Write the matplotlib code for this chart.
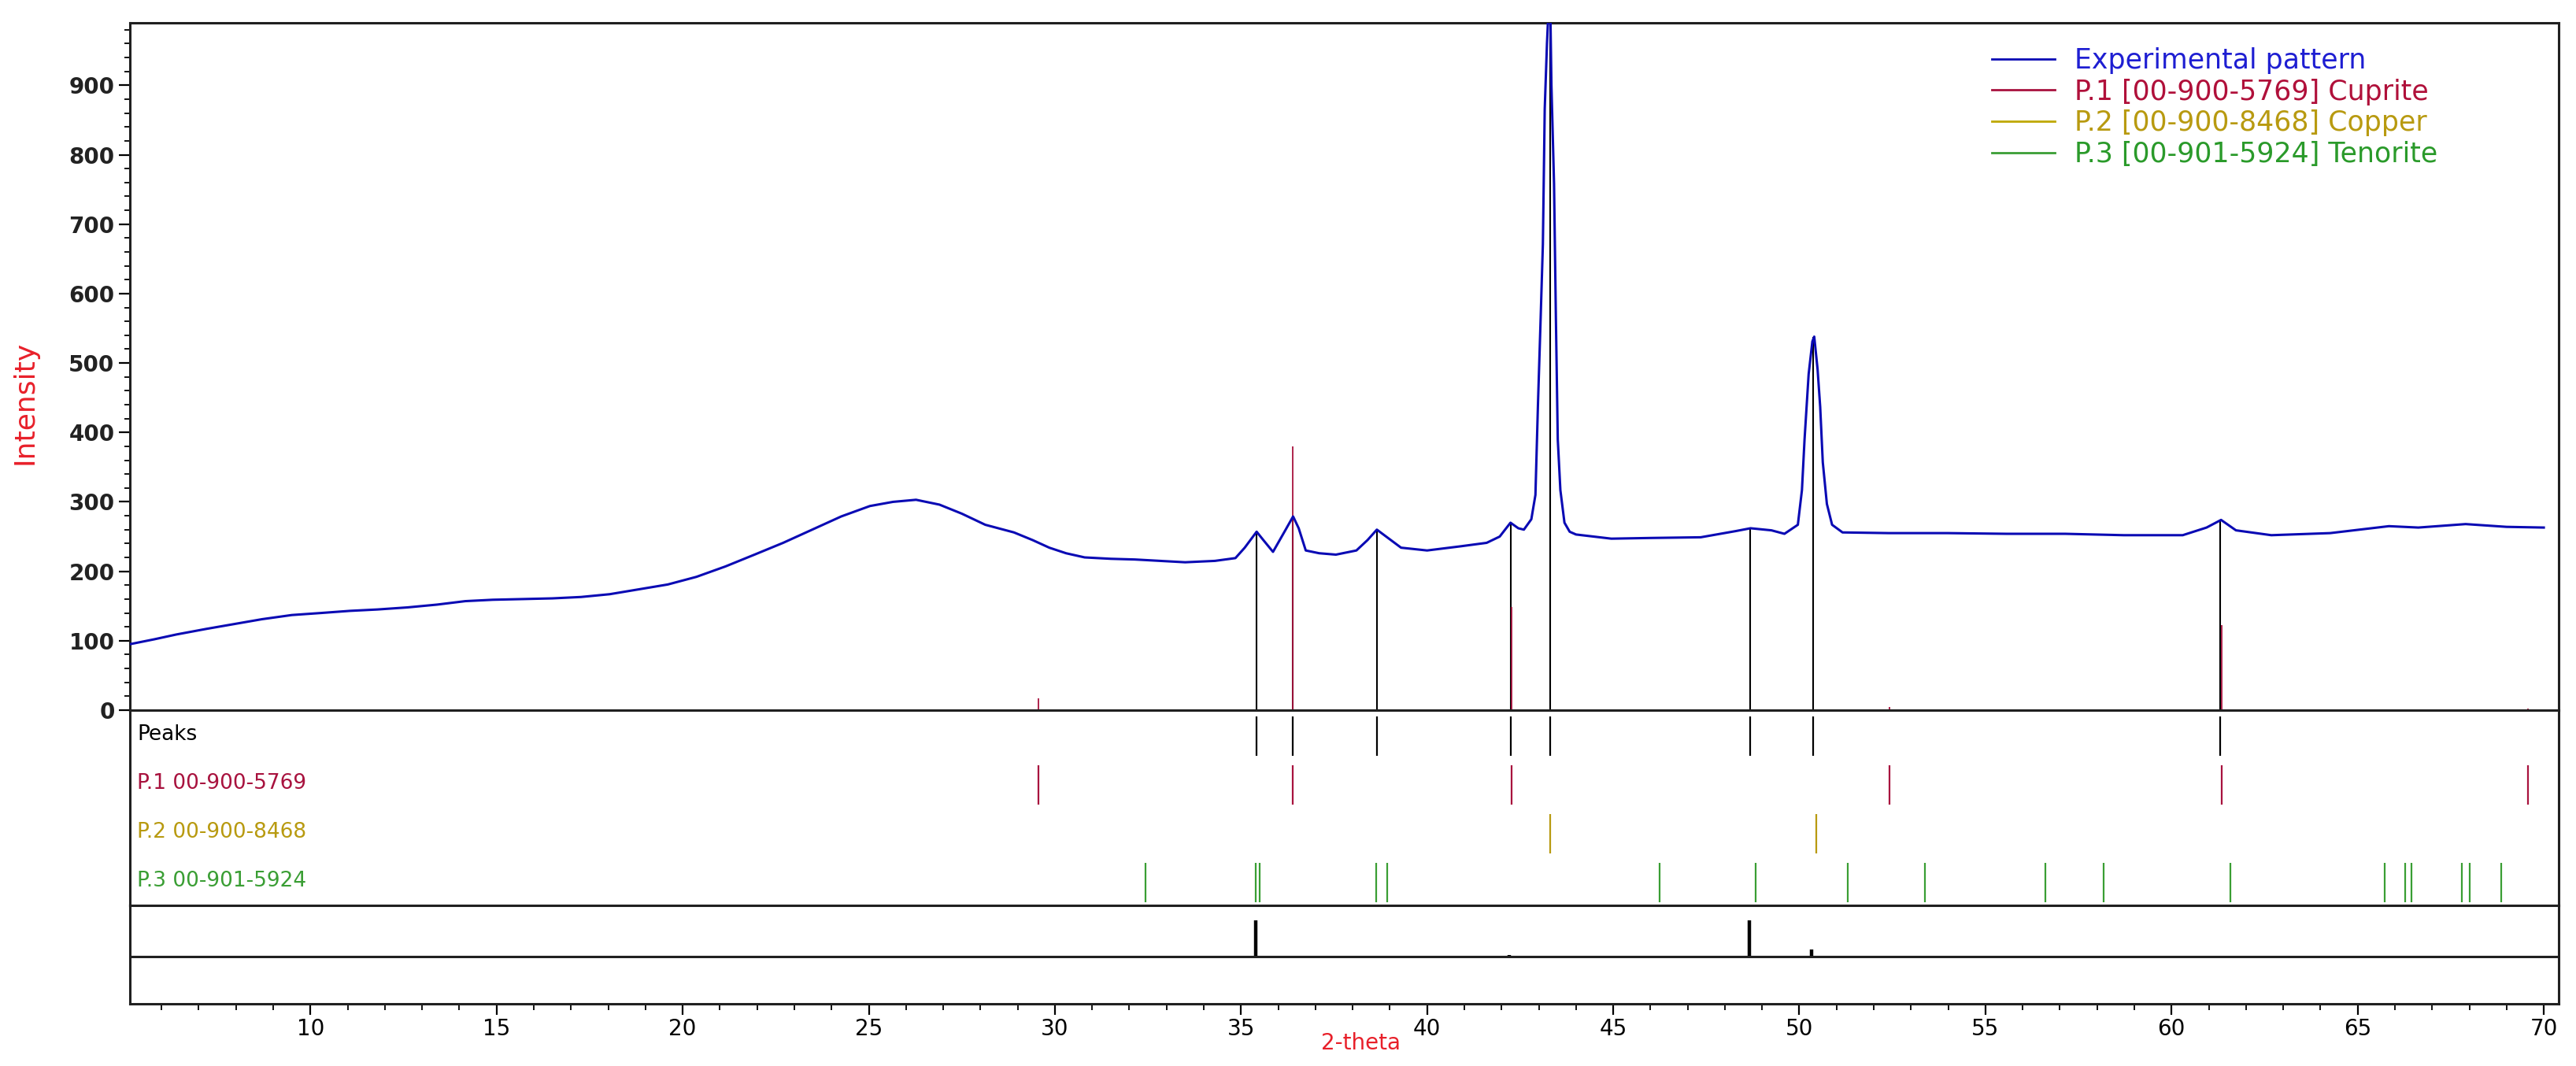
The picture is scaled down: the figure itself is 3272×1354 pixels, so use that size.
import matplotlib
matplotlib.use("Agg")
import matplotlib.pyplot as plt
from matplotlib.lines import Line2D
from matplotlib.ticker import MultipleLocator
import matplotlib.transforms as mtransforms

# experimental pattern (2-theta, counts)
two_theta = [5.15, 5.8, 6.4, 7.2, 7.95, 8.7, 9.5, 10.3, 11.06, 11.8, 12.61, 13.4,
             14.16, 14.9, 15.71, 16.5, 17.27, 18.04, 18.82, 19.6, 20.37, 21.15,
             21.93, 22.7, 23.48, 24.26, 25.03, 25.65, 26.27, 26.9, 27.5, 28.13,
             28.9, 29.4, 29.85, 30.3, 30.8, 31.5, 32.15, 33.5, 34.3, 34.85, 35.1,
             35.42, 35.6, 35.86, 36.2, 36.4, 36.55, 36.74, 37.1, 37.55, 38.1, 38.4,
             38.65, 38.9, 39.3, 40.0, 40.9, 41.6, 41.95, 42.24, 42.45, 42.6, 42.8,
             42.91, 42.98, 43.05, 43.11, 43.16, 43.22, 43.27, 43.31, 43.34, 43.41,
             43.46, 43.51, 43.58, 43.69, 43.83, 44.0, 44.95, 46.0, 47.35, 48.3,
             48.69, 49.25, 49.6, 49.96, 50.07, 50.14, 50.25, 50.35, 50.4, 50.49,
             50.56, 50.63, 50.74, 50.88, 51.16, 52.4, 53.98, 55.56, 57.14, 58.72,
             60.3, 60.94, 61.33, 61.73, 62.68, 64.26, 65.84, 66.63, 67.9, 69.0, 70.0]
intensity = [95, 102, 109, 117, 124, 131, 137, 140, 143, 145, 148, 152,
             157, 159, 160, 161, 163, 167, 174, 181, 192, 207,
             224, 241, 260, 279, 294, 300, 303, 296, 283, 267,
             256, 245, 234, 226, 220, 218, 217, 213, 215, 219, 234,
             257, 245, 228, 260, 279, 262, 230, 226, 224, 230, 245,
             260, 250, 234, 230, 236, 241, 250, 270, 262, 260, 275,
             310, 444, 564, 671, 866, 960, 1020, 1010, 900, 758,
             564, 390, 317, 270, 257, 253, 247, 248, 249, 258,
             262, 259, 254, 267, 317, 390, 484, 531, 538, 491,
             437, 357, 297, 267, 256, 255, 255, 254, 254, 252,
             252, 263, 274, 259, 252, 255, 265, 263, 268, 264, 263]

# peak search results
peak_pos = [35.42, 36.40, 38.65, 42.24, 43.30, 48.68, 50.38, 61.30]
peak_int = [257, 279, 260, 270, 1040, 262, 538, 274]

# reference phases
cuprite_pos = [29.55, 36.40, 42.27, 52.43, 61.34, 69.58]
cuprite_int = [17, 380, 149, 4, 123, 2]
copper_pos = [43.30, 50.46]
tenorite_pos = [32.44, 35.39, 35.50, 38.64, 38.92, 46.25, 48.83, 51.30, 53.37,
                56.61, 58.17, 61.58, 65.72, 66.27, 66.45, 67.79, 68.02, 68.85]

# bottom strip
diff_pos = [35.40, 42.20, 48.66, 50.33, 61.30]
diff_val = [37, 2, 37, 7, 1]

row_labels = ["Peaks", "P.1 00-900-5769", "P.2 00-900-8468", "P.3 00-901-5924"]
legend_labels = ["Experimental pattern", "P.1 [00-900-5769] Cuprite",
                 "P.2 [00-900-8468] Copper", "P.3 [00-901-5924] Tenorite"]

c_exp = "#0A0AB4"
c_cup = "#A8123E"
c_cop = "#BFA800"
c_ten = "#3A9E34"
c_lab = "#E8202A"
row_colors = ["black", c_cup, "#B89A10", c_ten]
legend_text_colors = ["#1E1ED2", "#B0103A", "#B89A10", "#2A9A2A"]

fig = plt.figure(figsize=(32.72, 13.54), dpi=100)
L, W = 165 / 3272, (3250 - 165) / 3272
ax = fig.add_axes([L, 1 - 902 / 1354, W, 873 / 1354])
axr = fig.add_axes([L, 1 - 1150 / 1354, W, 248 / 1354], sharex=ax)
axd = fig.add_axes([L, 1 - 1275 / 1354, W, 125 / 1354], sharex=ax)

for a in (ax, axr, axd):
    for s in a.spines.values():
        s.set_linewidth(2.2)
        s.set_color("#202020")

# main pattern
ax.vlines(peak_pos, 0, peak_int, colors="black", lw=1.5, zorder=2)
ax.vlines(cuprite_pos, 0, cuprite_int, colors=c_cup, lw=1.3, zorder=3)
ax.plot(two_theta, intensity, color=c_exp, lw=2.2, zorder=4)
ax.set_xlim(5.15, 70.4)
ax.set_ylim(0, 990)
ax.yaxis.set_major_locator(MultipleLocator(100))
ax.yaxis.set_minor_locator(MultipleLocator(20))
ax.tick_params(axis="y", which="major", direction="out", length=10, width=1.6,
               labelsize=20, pad=4)
ax.tick_params(axis="y", which="minor", direction="out", length=5, width=1.3)
ax.tick_params(axis="x", which="both", bottom=False, labelbottom=False)
for t in ax.get_yticklabels():
    t.set_fontweight("bold")
    t.set_color("#222222")

handles = [Line2D([], [], color=c, lw=2) for c in [c_exp, c_cup, c_cop, c_ten]]
leg = ax.legend(handles, legend_labels, loc="upper left", frameon=False,
                bbox_to_anchor=(2530 / 3272, 1 - 60 / 1354),
                bbox_transform=fig.transFigure, fontsize=25, borderpad=0,
                borderaxespad=0, handlelength=2.3, handletextpad=0.72,
                labelspacing=0.16)
for txt, c in zip(leg.get_texts(), legend_text_colors):
    txt.set_color(c)

# reference rows
rows = [peak_pos, cuprite_pos, copper_pos, tenorite_pos]
for i, (pos, col) in enumerate(zip(rows, row_colors)):
    k = 3 - i
    axr.vlines(pos, k + 0.07, k + 0.87, colors=col, lw=1.6)
    axr.text(0.003, k + 0.5, row_labels[i], color=col, fontsize=19, va="center",
             ha="left", transform=mtransforms.blended_transform_factory(axr.transAxes, axr.transData))
axr.set_ylim(0, 4)
axr.set_yticks([])
axr.tick_params(axis="x", which="both", bottom=False, labelbottom=False)

# bottom strip
axd.vlines(diff_pos, 0, diff_val, colors="black", lw=3.2)
axd.axhline(0, color="#202020", lw=2.2)
axd.set_ylim(-48, 52)
axd.set_yticks([])
axd.xaxis.set_major_locator(MultipleLocator(5))
axd.xaxis.set_minor_locator(MultipleLocator(1))
axd.tick_params(axis="x", which="major", direction="out", length=10, width=1.6,
                labelsize=20, pad=3)
axd.tick_params(axis="x", which="minor", direction="out", length=6, width=1.3)

fig.text(1728 / 3272, 1 - 1325 / 1354, "2-theta", color=c_lab, fontsize=20,
         ha="center", va="center")
fig.text(31 / 3272, 1 - 511 / 1354, "Intensity", color=c_lab, fontsize=26,
         ha="center", va="center", rotation=90)

fig.savefig("out.png", dpi=100)
